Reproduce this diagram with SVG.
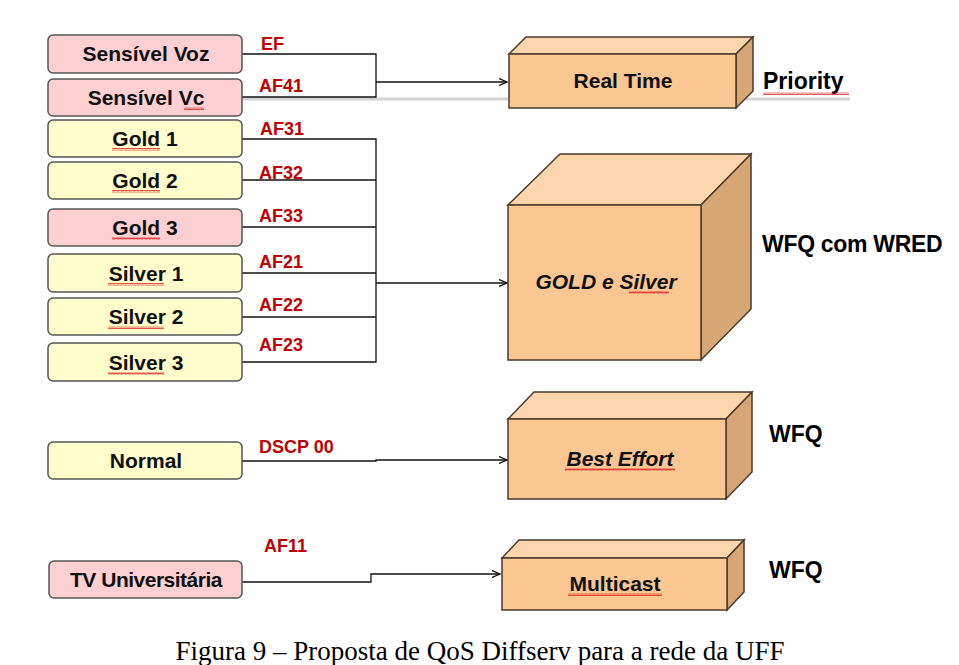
<svg xmlns="http://www.w3.org/2000/svg" width="959" height="665" viewBox="0 0 959 665">
<style>
.pink{fill:#FCD0D2;stroke:#555;stroke-width:1.5}
.yel{fill:#FFFDCC;stroke:#555;stroke-width:1.5}
.nt{font-family:"Liberation Sans",Arial,sans-serif;font-weight:bold;font-size:21px;fill:#111;text-anchor:middle}
.lb{font-family:"Liberation Sans",Arial,sans-serif;font-weight:bold;font-size:18px;fill:#C00000}
.rt{font-family:"Liberation Sans",Arial,sans-serif;font-weight:bold;font-size:23px;fill:#000}
.bt{font-family:"Liberation Sans",Arial,sans-serif;font-weight:bold;font-size:21px;fill:#111;text-anchor:middle}
.front{fill:#FAC692;stroke:#4a3a2a;stroke-width:1.5}
.top{fill:#FBD6AC;stroke:#4a3a2a;stroke-width:1.5}
.side{fill:#D6A675;stroke:#4a3a2a;stroke-width:1.5}
.ln{fill:none;stroke:#111;stroke-width:1.3}
.wv{fill:url(#wavy)}
</style>
<defs>
<marker id="arr" markerWidth="10" markerHeight="8" refX="8" refY="4" orient="auto" markerUnits="userSpaceOnUse">
<path d="M0,0.5 L8,4 L0,7.5" fill="none" stroke="#111" stroke-width="1.3"/>
</marker>
<pattern id="wavy" width="4" height="3" patternUnits="userSpaceOnUse">
<path d="M0,2.5 L1,0.5 L2,2.5 L3,0.5 L4,2.5" fill="none" stroke="#d01010" stroke-width="0.7"/>
</pattern>
</defs>
<rect width="959" height="665" fill="#fff"/>

<g id="connectors">
<line x1="242" y1="99" x2="850" y2="99" stroke="#d4d4d4" stroke-width="3"/>
<polyline class="ln" points="242,54 376,54 376,97 242,97"/>
<line class="ln" x1="376" y1="82" x2="507" y2="82" marker-end="url(#arr)"/>
<polyline class="ln" points="242,139 376,139 376,362 242,362"/>
<line class="ln" x1="242" y1="180" x2="376" y2="180"/>
<line class="ln" x1="242" y1="227" x2="376" y2="227"/>
<line class="ln" x1="242" y1="273" x2="376" y2="273"/>
<line class="ln" x1="242" y1="317" x2="376" y2="317"/>
<line class="ln" x1="376" y1="283" x2="507" y2="283" marker-end="url(#arr)"/>
<polyline class="ln" points="242,461 376,461 376,460 507,460" marker-end="url(#arr)"/>
<polyline class="ln" points="242,582 371,582 371,574 500,574" marker-end="url(#arr)"/>
<text class="lb" x="261" y="50">EF</text>
<text class="lb" x="259" y="92">AF41</text>
<text class="lb" x="260" y="135">AF31</text>
<text class="lb" x="259" y="179">AF32</text>
<text class="lb" x="259" y="222">AF33</text>
<text class="lb" x="259" y="268">AF21</text>
<text class="lb" x="259" y="311">AF22</text>
<text class="lb" x="259" y="351">AF23</text>
<text class="lb" x="259" y="453">DSCP 00</text>
<text class="lb" x="264" y="552">AF11</text>
</g>

<g id="n-sensivel-voz"><rect class="pink" x="48" y="35" width="194" height="38" rx="5"/><text class="nt" x="146" y="61">Sensível Voz</text></g>
<g id="n-sensivel-vc"><rect class="pink" x="48" y="79" width="194" height="37" rx="5"/><text class="nt" x="146" y="105">Sensível Vc</text><rect class="wv" x="184" y="107" width="20" height="3"/></g>
<g id="n-gold1"><rect class="yel" x="48" y="120" width="194" height="37" rx="5"/><text class="nt" x="145" y="146">Gold 1</text><rect class="wv" x="112" y="148" width="48" height="3"/></g>
<g id="n-gold2"><rect class="yel" x="48" y="162" width="194" height="37" rx="5"/><text class="nt" x="145" y="188">Gold 2</text><rect class="wv" x="112" y="190" width="48" height="3"/></g>
<g id="n-gold3"><rect class="pink" x="48" y="209" width="194" height="37" rx="5"/><text class="nt" x="145" y="235">Gold 3</text><rect class="wv" x="112" y="237" width="48" height="3"/></g>
<g id="n-silver1"><rect class="yel" x="48" y="254" width="194" height="38" rx="5"/><text class="nt" x="146" y="281">Silver 1</text><rect class="wv" x="108" y="283" width="56" height="3"/></g>
<g id="n-silver2"><rect class="yel" x="48" y="298" width="194" height="37" rx="5"/><text class="nt" x="146" y="324">Silver 2</text><rect class="wv" x="108" y="326" width="56" height="3"/></g>
<g id="n-silver3"><rect class="yel" x="48" y="343" width="194" height="38" rx="5"/><text class="nt" x="146" y="370">Silver 3</text><rect class="wv" x="108" y="372" width="56" height="3"/></g>
<g id="n-normal"><rect class="yel" x="48" y="442" width="194" height="37" rx="5"/><text class="nt" x="146" y="468">Normal</text></g>
<g id="n-tv"><rect class="pink" x="49" y="561" width="193" height="37" rx="5"/><text class="nt" x="146" y="587" letter-spacing="-0.5">TV Universitária</text></g>

<g id="n-realtime">
<polygon class="top" points="509,54 526,37 753,37 736,54"/>
<polygon class="side" points="736,54 753,37 753,91 736,108"/>
<rect class="front" x="509" y="54" width="227" height="54"/>
<text class="bt" x="623" y="88">Real Time</text>
</g>
<g id="n-gold-silver">
<polygon class="top" points="508,205 560,154 751,154 701,205"/>
<polygon class="side" points="701,205 751,154 751,309 701,360"/>
<rect class="front" x="508" y="205" width="193" height="155"/>
<text class="bt" x="606" y="289" font-size="19" font-style="italic">GOLD e Silver</text>
<rect class="wv" x="629" y="291" width="40" height="3"/>
</g>
<g id="n-best-effort">
<polygon class="top" points="508,419 534,392 752,392 726,419"/>
<polygon class="side" points="726,419 752,392 752,472 726,499"/>
<rect class="front" x="508" y="419" width="218" height="80"/>
<text class="bt" x="620" y="466" font-style="italic">Best Effort</text>
<rect class="wv" x="565" y="468" width="110" height="3"/>
</g>
<g id="n-multicast">
<polygon class="top" points="502,558 519,540 744,540 727,558"/>
<polygon class="side" points="727,558 744,540 744,592 727,610"/>
<rect class="front" x="502" y="558" width="225" height="52"/>
<text class="bt" x="615" y="591">Multicast</text>
<rect class="wv" x="568" y="593" width="94" height="3"/>
</g>

<g id="annotations">
<text class="rt" x="763" y="89" font-size="24">Priority</text>
<rect class="wv" x="763" y="92" width="86" height="3"/>
<text class="rt" x="762" y="252" letter-spacing="-0.3">WFQ com WRED</text>
<text class="rt" x="769" y="442" font-size="24">WFQ</text>
<text class="rt" x="769" y="578" font-size="24">WFQ</text>
<text x="480" y="660" font-family="'Liberation Serif','Times New Roman',serif" font-size="27" text-anchor="middle" fill="#000">Figura 9 – Proposta de QoS Diffserv para a rede da UFF</text>
</g>
</svg>
